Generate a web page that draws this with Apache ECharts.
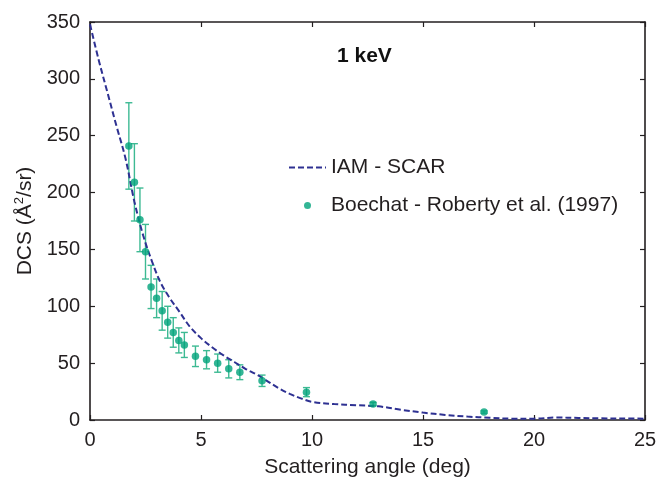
<!DOCTYPE html>
<html>
<head>
<meta charset="utf-8">
<script src="https://cdn.jsdelivr.net/npm/echarts@6/dist/echarts.min.js"></script>
<style>
html,body{margin:0;padding:0;background:#fff;}
#c{width:659px;height:477px;}
</style>
</head>
<body>
<div id="c"></div>
<script>
// IAM - SCAR theory curve
const curveX = [0, 0.4, 0.8, 1.2, 1.6, 2.0, 2.4, 2.8, 3.2, 3.6, 4.0, 4.5, 5.0, 5.5, 6.0, 6.5, 7.0, 7.5, 8.0, 8.5, 9.0, 9.5, 10, 11, 12, 13, 14, 15, 16, 17, 18, 19, 20, 21, 22, 23, 24, 25];
const curveY = [348, 316, 287, 258, 230, 192, 162, 139, 120, 107, 96, 82, 72, 64, 57, 51, 45, 40, 34, 28, 23, 19, 16, 14, 13, 12, 9, 6.5, 4.5, 3, 2, 1.2, 1.2, 2.2, 1.8, 1.5, 1.3, 1.2];
// Boechat - Roberty et al. (1997) experimental data
const expX = [1.75, 2.0, 2.25, 2.5, 2.75, 3.0, 3.25, 3.5, 3.75, 4.0, 4.25, 4.75, 5.25, 5.75, 6.25, 6.75, 7.75, 9.75, 12.75, 17.75];
const expY = [241, 209, 176, 148, 117, 107, 96, 86, 77, 70, 66, 56, 53, 50, 45, 42, 34.5, 24.5, 14, 7];
const expErr = [38, 34, 28, 24, 19, 17, 17, 14, 13, 11, 11, 9, 8, 8, 8, 6.5, 5, 4, 1.5, 1];
const xTicks = [0, 5, 10, 15, 20, 25];
const yTicks = [0, 50, 100, 150, 200, 250, 300, 350];

const chart = echarts.init(document.getElementById('c'));
const FONT = 'Liberation Sans, Arial, sans-serif';
const AX = '#231f20';

function axisCommon() {
  return {
    axisLine: {show: true, onZero: false, lineStyle: {color: AX, width: 1.6}},
    axisTick: {show: true, inside: true, length: 5, lineStyle: {color: AX, width: 1.2}},
    splitLine: {show: false}
  };
}

chart.setOption({
  backgroundColor: '#fff',
  animation: false,
  textStyle: {fontFamily: FONT},
  grid: {left: 90, right: 14, top: 22, bottom: 57, containLabel: false, outerBoundsMode: 'none'},
  graphic: [{
    type: 'text', left: 337, top: 46,
    style: {text: '1 keV', font: 'bold 21px ' + FONT, fill: '#111'}
  }],
  legend: {
    orient: 'vertical', left: 283, top: 152, itemGap: 17,
    itemWidth: 37, itemHeight: 7, padding: 5,
    textStyle: {fontSize: 21, color: AX, fontFamily: FONT},
    data: [
      {name: 'IAM - SCAR', itemStyle: {opacity: 0}},
      {name: 'Boechat - Roberty et al. (1997)'}
    ]
  },
  xAxis: [Object.assign({
    type: 'value', min: 0, max: 25, interval: 5,
    name: 'Scattering angle (deg)', nameLocation: 'middle', nameGap: 37,
    nameTextStyle: {fontSize: 21, color: AX, fontFamily: FONT},
    axisLabel: {fontSize: 20, color: AX, margin: 10, fontFamily: FONT,
      customValues: xTicks}
  }, axisCommon()), Object.assign({
    type: 'value', min: 0, max: 25, interval: 5, position: 'top',
    axisLabel: {show: false}
  }, axisCommon())],
  yAxis: [Object.assign({
    type: 'value', min: 0, max: 350, interval: 50,
    name: '{a|DCS (Å}{s|2}{a|/sr)}', nameLocation: 'middle', nameGap: 52,
    nameTextStyle: {fontSize: 21, color: AX, fontFamily: FONT,
      rich: {a: {fontSize: 21, color: AX, fontFamily: FONT, lineHeight: 24},
             s: {fontSize: 13, color: AX, fontFamily: FONT, verticalAlign: 'top', lineHeight: 24, padding: [0, 0, 8, 0]}}},
    axisLabel: {fontSize: 20, color: AX, margin: 10, fontFamily: FONT,
      customValues: yTicks}
  }, axisCommon()), Object.assign({
    type: 'value', min: 0, max: 350, interval: 50, position: 'right',
    axisLabel: {show: false}
  }, axisCommon())],
  series: [
    {
      name: 'IAM - SCAR', type: 'line',
      data: curveX.map((x, i) => [x, curveY[i]]),
      symbol: 'none', smooth: 0.35, z: 3,
      lineStyle: {color: '#2e3192', width: 2, type: [6, 3]},
      itemStyle: {color: '#2e3192'}
    },
    {
      name: 'errbars', type: 'custom',
      data: expX.map((x, i) => [x, expY[i], expErr[i]]),
      encode: {x: 0, y: 1}, z: 2, silent: true,
      renderItem: function (params, api) {
        const x = api.value(0), y = api.value(1), e = api.value(2);
        const t = api.coord([x, y + e]);
        const b = api.coord([x, y - e]);
        const hw = 3.5;
        const st = {stroke: '#3dba93', lineWidth: 1.4};
        return {type: 'group', children: [
          {type: 'line', shape: {x1: t[0], y1: t[1], x2: b[0], y2: b[1]}, style: st},
          {type: 'line', shape: {x1: t[0] - hw, y1: t[1], x2: t[0] + hw, y2: t[1]}, style: st},
          {type: 'line', shape: {x1: b[0] - hw, y1: b[1], x2: b[0] + hw, y2: b[1]}, style: st}
        ]};
      }
    },
    {
      name: 'Boechat - Roberty et al. (1997)', type: 'scatter',
      data: expX.map((x, i) => [x, expY[i]]),
      symbol: 'circle', symbolSize: 7.5, z: 4,
      itemStyle: {color: '#00a27a'}
    }
  ]
});
</script>
</body>
</html>
